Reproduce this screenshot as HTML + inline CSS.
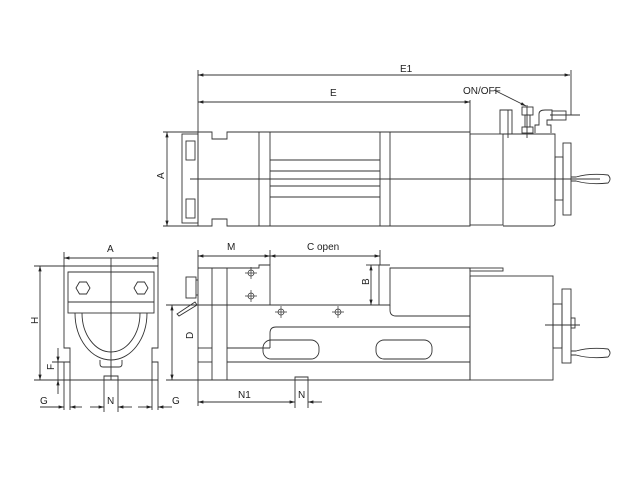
<!DOCTYPE html>
<html><head><style>body{margin:0;background:#fff}svg{display:block}text{font-family:"Liberation Sans",sans-serif;font-size:10px;fill:#222}</style></head>
<body>
<svg width="640" height="480" viewBox="0 0 640 480" xmlns="http://www.w3.org/2000/svg">
<defs><marker id="a" viewBox="0 0 10 10" refX="10" refY="5" markerWidth="6" markerHeight="6" orient="auto-start-reverse"><path d="M0,2 L10,5 L0,8z" fill="#222"/></marker></defs>
<g stroke="#333" stroke-width="0.9" fill="none">
<!-- top view dims -->
<line x1="198" y1="70" x2="198" y2="132"/><line x1="571" y1="70" x2="571" y2="115"/>
<line x1="198" y1="75" x2="570" y2="75" marker-start="url(#a)" marker-end="url(#a)"/>
<line x1="198" y1="102" x2="470" y2="102" marker-start="url(#a)" marker-end="url(#a)"/>
<line x1="470" y1="100" x2="470" y2="132"/>
<line x1="167" y1="132" x2="167" y2="226" marker-start="url(#a)" marker-end="url(#a)"/>
<line x1="163" y1="132" x2="198" y2="132"/><line x1="163" y1="226" x2="198" y2="226"/>
<!-- top view body -->
<path d="M198,132 H212 V139 H227 V132 H470 V226 H227 V219 H212 V226 H198 Z"/>
<rect x="182" y="134" width="16" height="89"/>
<rect x="186" y="141" width="9" height="19"/><rect x="186" y="199" width="9" height="19"/>
<line x1="259" y1="132" x2="259" y2="226"/><line x1="270" y1="132" x2="270" y2="226"/>
<line x1="380" y1="132" x2="380" y2="226"/><line x1="390" y1="132" x2="390" y2="226"/>
<line x1="270" y1="160" x2="380" y2="160"/><line x1="270" y1="171" x2="380" y2="171"/>
<line x1="270" y1="186" x2="380" y2="186"/><line x1="270" y1="197" x2="380" y2="197"/>
<rect x="470" y="134" width="33" height="91"/>
<path d="M503,134 H555 V223 Q555,226 552,226 H503"/>
<path d="M500,134 V110 H512 V134"/><line x1="508" y1="110" x2="508" y2="138"/>
<rect x="522" y="107" width="11" height="8"/><rect x="525" y="115" width="5" height="12"/><rect x="522" y="127" width="11" height="6"/>
<line x1="527" y1="105" x2="527" y2="138"/>
<path d="M535,133 V125 H539 V114 Q539,110 545,110 H552 V120 H547 V125 H551 V133"/>
<rect x="552" y="111" width="14" height="9"/><line x1="550" y1="115" x2="580" y2="115"/>
<rect x="555" y="157" width="8" height="43"/><rect x="563" y="143" width="8" height="72"/>
<path d="M571,177 H576 Q590,173 608,175 Q612,179 608,183 Q590,185 576,181 H571"/>
<line x1="190" y1="179" x2="600" y2="179"/>
<line x1="494" y1="90" x2="526" y2="106" marker-end="url(#a)"/>
<!-- front view -->
<line x1="64" y1="258" x2="158" y2="258" marker-start="url(#a)" marker-end="url(#a)"/>
<line x1="64" y1="252" x2="64" y2="266"/><line x1="158" y1="252" x2="158" y2="266"/>
<path d="M64,266 H158 V348 H152 V362 H158 V380 H64 V362 H70 V348 H64 Z"/>
<line x1="70" y1="362" x2="70" y2="410"/><line x1="152" y1="362" x2="152" y2="410"/>
<line x1="64" y1="380" x2="64" y2="410"/><line x1="158" y1="380" x2="158" y2="410"/>
<line x1="68" y1="272" x2="154" y2="272"/>
<rect x="68" y="272" width="86" height="41"/><line x1="68" y1="302" x2="154" y2="302"/>
<polygon points="76,288 79.5,282 86.5,282 90,288 86.5,294 79.5,294"/>
<polygon points="134,288 137.5,282 144.5,282 148,288 144.5,294 137.5,294"/>
<path d="M75,313 A36,47 0 0 0 147,313"/>
<path d="M82,313 A29,39 0 0 0 140,313"/>
<path d="M100,360 V364 Q100,367 103,367 H119 Q122,367 122,364 V360"/>
<line x1="111" y1="258" x2="111" y2="380"/>
<path d="M104,380 V376 H118 V380"/><line x1="104" y1="380" x2="104" y2="412"/><line x1="118" y1="380" x2="118" y2="412"/>
<line x1="34" y1="266" x2="64" y2="266"/><line x1="34" y1="380" x2="64" y2="380"/>
<line x1="40" y1="266" x2="40" y2="380" marker-start="url(#a)" marker-end="url(#a)"/>
<line x1="58" y1="348" x2="58" y2="362" marker-end="url(#a)"/><line x1="58" y1="380" x2="58" y2="394" marker-start="url(#a)"/>
<line x1="58" y1="362" x2="58" y2="380"/>
<line x1="52" y1="362" x2="70" y2="362"/>
<line x1="40" y1="407" x2="64" y2="407" marker-end="url(#a)"/><line x1="70" y1="407" x2="82" y2="407" marker-start="url(#a)"/>
<line x1="90" y1="407" x2="104" y2="407" marker-end="url(#a)"/><line x1="118" y1="407" x2="132" y2="407" marker-start="url(#a)"/>
<line x1="138" y1="407" x2="152" y2="407" marker-end="url(#a)"/><line x1="158" y1="407" x2="172" y2="407" marker-start="url(#a)"/>
<!-- side view -->
<line x1="198" y1="250" x2="198" y2="268"/><line x1="270" y1="250" x2="270" y2="265"/><line x1="380" y1="250" x2="380" y2="265"/>
<line x1="198" y1="256" x2="270" y2="256" marker-start="url(#a)" marker-end="url(#a)"/>
<line x1="270" y1="256" x2="380" y2="256" marker-start="url(#a)" marker-end="url(#a)"/>
<path d="M198,268 H259 V265 H270 V305 H259 M198,268 V380 H470 V268 H390 V305 H379 V265 H390"/>
<line x1="198" y1="305" x2="379" y2="305"/>
<path d="M390,305 V310 Q390,316 396,316 H470"/>
<path d="M270,348 V333 Q270,327 276,327 H470"/>
<line x1="212" y1="268" x2="212" y2="380"/><line x1="227" y1="268" x2="227" y2="380"/>
<line x1="198" y1="348" x2="212" y2="348"/><line x1="227" y1="348" x2="270" y2="348"/>
<line x1="198" y1="362" x2="212" y2="362"/><line x1="227" y1="362" x2="470" y2="362"/>
<rect x="263" y="340" width="56" height="19" rx="8"/><rect x="376" y="340" width="56" height="19" rx="8"/>
<rect x="470" y="276" width="83" height="104"/>
<rect x="470" y="268" width="33" height="3"/>
<rect x="553" y="304" width="9" height="44"/><rect x="562" y="289" width="9" height="74"/><rect x="571" y="318" width="4" height="10"/>
<line x1="545" y1="325" x2="580" y2="325"/>
<path d="M571,351 H576 Q590,347 608,349 Q612,353 608,357 Q590,359 576,355 H571"/>
<rect x="186" y="277" width="10" height="21"/><line x1="196" y1="280" x2="198" y2="280"/><line x1="196" y1="295" x2="198" y2="295"/>
<path d="M177,314 L195,302 L197,305 L179,316 Z"/>
<line x1="366" y1="265" x2="379" y2="265"/>
<line x1="371" y1="265" x2="371" y2="305" marker-start="url(#a)" marker-end="url(#a)"/>
<line x1="166" y1="305" x2="198" y2="305"/>
<line x1="172" y1="305" x2="172" y2="380" marker-start="url(#a)" marker-end="url(#a)"/>
<line x1="166" y1="380" x2="198" y2="380"/>
<path d="M295,380 V377 H308 V380"/>
<line x1="198" y1="380" x2="198" y2="406"/><line x1="295" y1="380" x2="295" y2="408"/><line x1="308" y1="380" x2="308" y2="408"/>
<line x1="198" y1="402" x2="295" y2="402" marker-start="url(#a)" marker-end="url(#a)"/>
<line x1="308" y1="402" x2="322" y2="402" marker-start="url(#a)"/>
</g>
<g stroke="#333" stroke-width="0.7" fill="none">
<circle cx="251" cy="273" r="3"/><circle cx="251" cy="296" r="3"/><circle cx="281" cy="312" r="3"/><circle cx="338" cy="312" r="3"/>
<path d="M245,273h12M251,267v12M245,296h12M251,290v12M275,312h12M281,306v12M332,312h12M338,306v12"/>
</g>
<text x="400" y="72">E1</text><text x="330" y="96">E</text>
<text x="463" y="94">ON/OFF</text>
<text x="160" y="183" transform="rotate(-90 160 179)">A</text>
<text x="107" y="252">A</text>
<text x="34" y="328" transform="rotate(-90 34 324)">H</text>
<text x="52" y="374" transform="rotate(-90 51 371)">F</text>
<text x="40" y="404">G</text><text x="107" y="404">N</text><text x="172" y="404">G</text>
<text x="227" y="250">M</text><text x="307" y="250">C open</text>
<text x="366" y="288" transform="rotate(-90 366 285)">B</text>
<text x="193" y="345" transform="rotate(-90 190 342)">D</text>
<text x="238" y="398">N1</text><text x="298" y="398">N</text>
</svg>
</body></html>
